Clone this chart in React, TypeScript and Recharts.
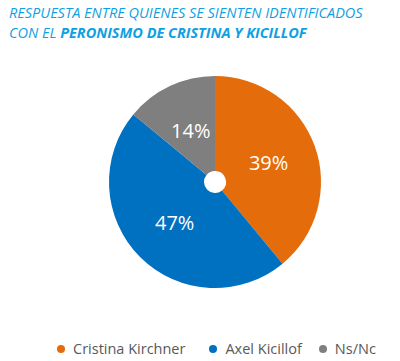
import { PieChart, Pie, Cell } from "recharts";

const categories = ["Cristina Kirchner", "Axel Kicillof", "Ns/Nc"];
const shares = [39, 47, 14];
const colors = ["#E46C0A", "#0070C0", "#7F7F7F"];

const data = categories.map((name, i) => ({ name, value: shares[i] }));

const RAD = Math.PI / 180;

function renderLabel(props: any) {
  const { cx, cy, midAngle, value } = props;
  const r = 57;
  const x = cx + r * Math.cos(-midAngle * RAD);
  const y = cy + r * Math.sin(-midAngle * RAD);
  return (
    <text x={x} y={y} fill="#fff" fontSize={20} fontFamily="Open Sans" textAnchor="middle" dominantBaseline="central">
      {value}%
    </text>
  );
}

export default function App() {
  return (
    <div style={{ position: "absolute", left: 0, top: 0, width: 400, height: 361, background: "#fff", fontFamily: "Open Sans" }}>
      <div style={{ position: "absolute", left: 9, top: 3, color: "#0FA0E3", fontStyle: "italic", fontSize: 14.5, lineHeight: "20px", whiteSpace: "nowrap" }}>
        <div>RESPUESTA ENTRE QUIENES SE SIENTEN IDENTIFICADOS</div>
        <div>
          CON EL <b>PERONISMO DE CRISTINA Y KICILLOF</b>
        </div>
      </div>
      <PieChart width={400} height={361} margin={{ top: 0, right: 0, bottom: 0, left: 0 }}>
        <Pie
          data={data}
          dataKey="value"
          nameKey="name"
          cx={215}
          cy={182}
          innerRadius={11}
          outerRadius={106}
          startAngle={90}
          endAngle={-270}
          stroke="none"
          label={renderLabel}
          labelLine={false}
          isAnimationActive={false}
        >
          {data.map((d, i) => (
            <Cell key={d.name} fill={colors[i]} />
          ))}
        </Pie>
      </PieChart>
      <div style={{ position: "absolute", left: 57, top: 339, display: "flex", alignItems: "center", fontSize: 14.5, color: "#595959", whiteSpace: "nowrap" }}>
        {data.map((d, i) => (
          <div key={d.name} style={{ display: "flex", alignItems: "center", marginRight: i === 0 ? 24 : 17 }}>
            <span style={{ width: 8, height: 8, borderRadius: 4, background: colors[i], marginRight: 8, display: "inline-block" }} />
            {d.name}
          </div>
        ))}
      </div>
    </div>
  );
}
